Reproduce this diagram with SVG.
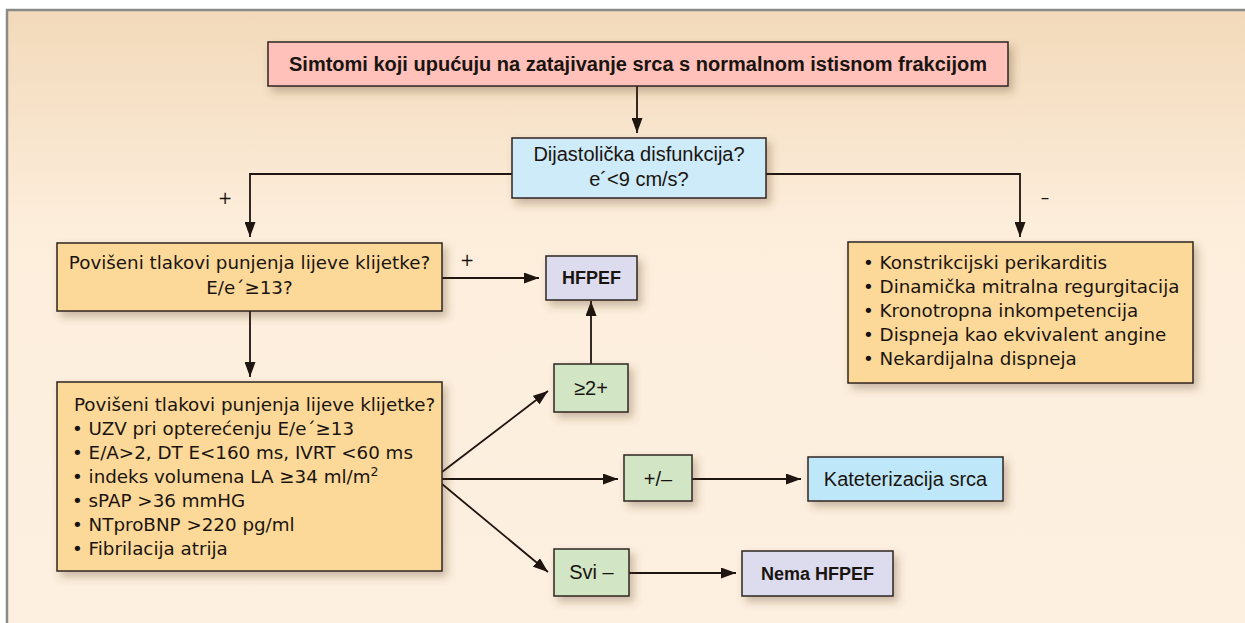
<svg xmlns="http://www.w3.org/2000/svg" width="1245" height="623" viewBox="0 0 1245 623">
<defs>
<linearGradient id="bg" x1="0" y1="0" x2="0" y2="1" gradientUnits="objectBoundingBox">
<stop offset="0" stop-color="#f2d9ba"/>
<stop offset="0.35" stop-color="#fdeedc"/>
<stop offset="1" stop-color="#fdf0e1"/>
</linearGradient>
<filter id="sh" x="-20%" y="-30%" width="150%" height="180%">
<feDropShadow dx="4" dy="5" stdDeviation="4.5" flood-color="#5a3a1a" flood-opacity="0.32"/>
</filter>
<marker id="ah" viewBox="0 0 15 11" refX="15" refY="5.5" markerWidth="15" markerHeight="11" markerUnits="userSpaceOnUse" orient="auto">
<path d="M0,0 L15,5.5 L0,11 Z" fill="#1e1410"/>
</marker>
<style>
.box{stroke:#2e241f;stroke-width:1.5;filter:url(#sh)}
.pink{fill:#ffc1ba}
.blue{fill:#cdebf8}
.cyan{fill:#bee8f9}
.orange{fill:#fdd999}
.lav{fill:#dcdcee}
.green{fill:#d2e5c5}
.c{font-family:"Liberation Sans",Arial,sans-serif;font-size:20px;fill:#1a1410}
.b{font-family:"Liberation Sans",Arial,sans-serif;font-weight:bold;fill:#1a1410}
.d{font-family:"DejaVu Sans",sans-serif;font-size:18.3px;fill:#1a1410}
.lbl{font-family:"DejaVu Sans",sans-serif;font-size:17px;fill:#1a1410}
.mid{text-anchor:middle}
.ln{fill:none;stroke:#1e1410;stroke-width:1.8}
.ar{marker-end:url(#ah)}
</style>
</defs>
<rect x="0" y="0" width="1245" height="623" fill="#ffffff"/>
<rect x="7" y="10" width="1260" height="640" fill="url(#bg)" stroke="#8a8a8a" stroke-width="2.5"/>

<g id="connectors">
<line class="ln ar" x1="637" y1="86" x2="637" y2="133"/>
<polyline class="ln ar" points="512,174 250,174 250,237"/>
<polyline class="ln ar" points="766,174 1020,174 1020,237"/>
<line class="ln ar" x1="250" y1="311" x2="250" y2="377"/>
<line class="ln ar" x1="442" y1="278" x2="539" y2="278"/>
<line class="ln ar" x1="591" y1="364" x2="591" y2="301"/>
<line class="ln ar" x1="442" y1="472" x2="548" y2="391"/>
<line class="ln ar" x1="442" y1="479" x2="618" y2="479"/>
<line class="ln ar" x1="692" y1="479" x2="801" y2="479"/>
<line class="ln ar" x1="442" y1="484" x2="548" y2="572"/>
<line class="ln ar" x1="629" y1="573" x2="736" y2="573"/>
<text class="lbl mid" x="225" y="204">+</text>
<text class="lbl mid" x="1045" y="203">–</text>
<text class="lbl mid" x="467" y="266">+</text>
</g>

<g id="title">
<rect class="box pink" x="268" y="42" width="740" height="44"/>
<text class="b mid" x="638" y="71" font-size="20">Simtomi koji upućuju na zatajivanje srca s normalnom istisnom frakcijom</text>
</g>

<g id="diastolic">
<rect class="box blue" x="512" y="138" width="254" height="60"/>
<text class="c mid" x="639" y="161">Dijastolička disfunkcija?</text>
<text class="c mid" x="639" y="186">e´&lt;9 cm/s?</text>
</g>

<g id="pressure1">
<rect class="box orange" x="57" y="243" width="385" height="68"/>
<text class="d mid" x="249.5" y="269">Povišeni tlakovi punjenja lijeve klijetke?</text>
<text class="d mid" x="249.5" y="294">E/e´≥13?</text>
</g>

<g id="pressure2">
<rect class="box orange" x="57" y="382" width="385" height="189"/>
<text class="d" x="74" y="411">Povišeni tlakovi punjenja lijeve klijetke?</text>
<text class="d" x="72" y="435">• UZV pri opterećenju E/e´≥13</text>
<text class="d" x="72" y="459">• E/A&gt;2, DT E&lt;160 ms, IVRT &lt;60 ms</text>
<text class="d" x="72" y="483">• indeks volumena LA ≥34 ml/m<tspan font-size="12.5" dy="-7">2</tspan></text>
<text class="d" x="72" y="507">• sPAP &gt;36 mmHG</text>
<text class="d" x="72" y="531">• NTproBNP &gt;220 pg/ml</text>
<text class="d" x="72" y="555">• Fibrilacija atrija</text>
</g>

<g id="other">
<rect class="box orange" x="848" y="242" width="345" height="141"/>
<text class="d" x="863" y="269">• Konstrikcijski perikarditis</text>
<text class="d" x="863" y="293">• Dinamička mitralna regurgitacija</text>
<text class="d" x="863" y="317">• Kronotropna inkompetencija</text>
<text class="d" x="863" y="341">• Dispneja kao ekvivalent angine</text>
<text class="d" x="863" y="365">• Nekardijalna dispneja</text>
</g>

<g id="hfpef">
<rect class="box lav" x="546" y="256" width="91" height="44"/>
<text class="b mid" x="591.5" y="284" font-size="18">HFPEF</text>
</g>

<g id="ge2">
<rect class="box green" x="554" y="364" width="74" height="48"/>
<text class="c mid" x="591" y="395">≥2+</text>
</g>

<g id="pm">
<rect class="box green" x="624" y="455" width="68" height="46"/>
<text class="c mid" x="658" y="486">+/–</text>
</g>

<g id="cath">
<rect class="box cyan" x="808" y="457" width="195" height="44"/>
<text class="c mid" x="905.5" y="486">Kateterizacija srca</text>
</g>

<g id="svi">
<rect class="box green" x="554" y="549" width="75" height="47"/>
<text class="c mid" x="591.5" y="579">Svi –</text>
</g>

<g id="nema">
<rect class="box lav" x="742" y="551" width="151" height="45"/>
<text class="b mid" x="817.5" y="580" font-size="18">Nema HFPEF</text>
</g>
</svg>
